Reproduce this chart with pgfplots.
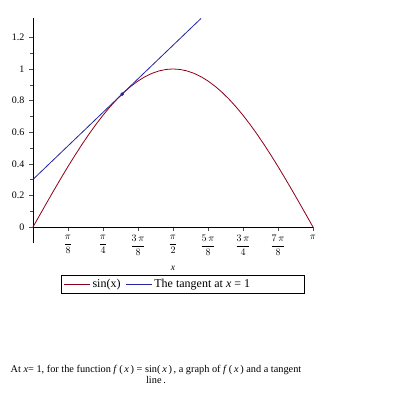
\documentclass[border=0pt]{standalone}
\usepackage{amsmath}
\usepackage{pgfplots}
\pgfplotsset{compat=1.18}
\usepackage{fontspec}
\setmainfont{Liberation Serif}
\definecolor{sinred}{RGB}{140,0,25}
\definecolor{tanblue}{RGB}{35,35,160}
\begin{document}
\begin{tikzpicture}
\useasboundingbox (0,0) rectangle (395pt,-395pt);
\begin{axis}[
  at={(33pt,-227pt)}, anchor=origin,
  scale only axis, width=280pt, height=224.4pt,
  xmin=0, xmax=3.14159, ymin=-0.1, ymax=1.32,
  axis lines=middle, axis line style={-, black, line width=0.5pt},
  hide obscured x ticks=false, hide obscured y ticks=false,
  xtick={0.392699,0.785398,1.178097,1.570796,1.963495,2.356194,2.748894,3.141593},
  xticklabels={$\dfrac{\pi}{8}$,$\dfrac{\pi}{4}$,$\dfrac{3\,\pi}{8}$,$\dfrac{\pi}{2}$,$\dfrac{5\,\pi}{8}$,$\dfrac{3\,\pi}{4}$,$\dfrac{7\,\pi}{8}$,$\pi$},
  ytick={0,0.2,0.4,0.6,0.8,1,1.2},
  yticklabels={0,0.2,0.4,0.6,0.8,1,1.2},
  minor x tick num=1, minor y tick num=1,
  tick style={black!70, line width=0.4pt},
  major tick length=4pt, minor tick length=3pt,
  tick align=outside,
  yticklabel style={font=\fontsize{10}{11}\selectfont, xshift=-1pt},
  xticklabel style={font=\fontsize{10}{12}\selectfont, yshift=-1pt},
  xlabel={\fontsize{9.5}{11}\selectfont\itshape x},
  xlabel style={at={(axis description cs:0.5,-0.112)}, anchor=center},
  legend style={at={(0.536,-0.185)}, anchor=center, legend columns=2,
    draw=black, line width=0.6pt, font=\fontsize{12}{13}\selectfont,
    inner sep=2pt, /tikz/every even column/.append style={column sep=3pt}},
  legend image code/.code={\draw[#1, line width=0.8pt] (0pt,0pt) -- (26pt,0pt);},
  legend cell align=left,
  clip=false,
]
\addplot[sinred, line width=0.8pt] coordinates {
(0,0) (0.07854,0.078459) (0.15708,0.156434) (0.23562,0.233445) (0.31416,0.309017)
(0.39270,0.382683) (0.47124,0.453990) (0.54978,0.522499) (0.62832,0.587785)
(0.70686,0.649448) (0.78540,0.707107) (0.86394,0.760406) (0.94248,0.809017)
(1.02102,0.852640) (1.09956,0.891007) (1.17810,0.923880) (1.25664,0.951057)
(1.33518,0.972370) (1.41372,0.987688) (1.49226,0.996917) (1.57080,1)
(1.64934,0.996917) (1.72788,0.987688) (1.80642,0.972370) (1.88496,0.951057)
(1.96350,0.923880) (2.04204,0.891007) (2.12058,0.852640) (2.19911,0.809017)
(2.27765,0.760406) (2.35619,0.707107) (2.43473,0.649448) (2.51327,0.587785)
(2.59181,0.522499) (2.67035,0.453990) (2.74889,0.382683) (2.82743,0.309017)
(2.90597,0.233445) (2.98451,0.156434) (3.06305,0.078459) (3.14159,0)
};
\addlegendentry{sin(x)}
\addplot[tanblue, line width=0.8pt] coordinates {(0,0.30117) (1.8857,1.32)};
\addlegendentry{\makebox[146pt][l]{The tangent at \textit{x} = 1}}
\addplot[tanblue, only marks, mark=*, mark size=1.6pt, forget plot] coordinates {(1,0.84147)};
\end{axis}
\node[font=\fontsize{10.3}{11}\selectfont, align=center, anchor=north] at (156pt,-362pt)
  {At \textit{x}= 1, for the function \textit{f}\,(\,\textit{x}\,) = sin(\,\textit{x}\,)\,, a graph of \textit{f}\,(\,\textit{x}\,) and a tangent\\ line\,.};
\end{tikzpicture}
\end{document}
